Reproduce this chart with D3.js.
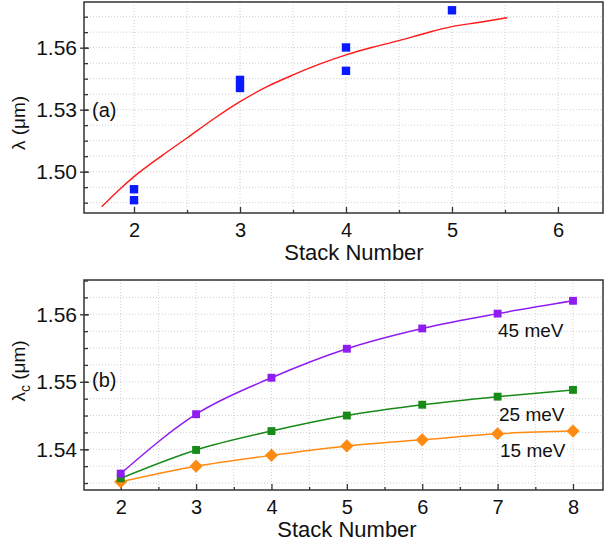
<!DOCTYPE html>
<html>
<head>
<meta charset="utf-8">
<script src="https://cdn.jsdelivr.net/npm/d3@7"></script>
<style>
body { margin: 0; background: #fff; }
text { font-family: "Liberation Sans", Arial, sans-serif; fill: #111; }
</style>
</head>
<body>
<div id="main-diagram"></div>
<script>
// ---- panel (a) : measured peaks + fitted curve
const stackA = [2, 2, 3, 3, 4, 4, 5]
const lambdaA = [1.4915, 1.4862, 1.5444, 1.5405, 1.5601, 1.5488, 1.5781]
const fitStack = [1.695, 1.84, 2.0, 2.27, 2.5, 2.75, 3.0, 3.25, 3.5, 3.75, 4.0, 4.25, 4.5, 4.75, 5.0, 5.25, 5.52]
const fitLambda = [1.483, 1.4903, 1.4976, 1.508, 1.5163, 1.5255, 1.5339, 1.541, 1.5468, 1.552, 1.5565, 1.5602, 1.5634, 1.567, 1.5702, 1.5722, 1.5745]
const xTicksA = [2, 3, 4, 5, 6]
const yTicksA = [1.50, 1.53, 1.56]

// ---- panel (b) : lambda_c vs stack number for three broadenings
const stackB = [2, 3, 4, 5, 6, 7, 8]
const meV45 = [1.5364, 1.5452, 1.5506, 1.5549, 1.5579, 1.5601, 1.5620]
const meV25 = [1.5357, 1.5399, 1.5427, 1.5450, 1.5466, 1.5478, 1.5488]
const meV15 = [1.5352, 1.5375, 1.5391, 1.5405, 1.5414, 1.5423, 1.5427]
const seriesNames = ['45 meV', '25 meV', '15 meV']
const xTicksB = [2, 3, 4, 5, 6, 7, 8]
const yTicksB = [1.54, 1.55, 1.56]

const width = 604
const height = 543
const left = 84
const right = 603

const svg = d3.select('#main-diagram')
    .append('svg')
    .attr('width', width)
    .attr('height', height)

function drawPanel(p) {
    const x = d3.scaleLinear().domain(p.xDomain).range([left, right])
    const y = d3.scaleLinear().domain(p.yDomain).range([p.bottom, p.top])
    const g = svg.append('g')

    // dotted grid
    const gx = d3.range(Math.ceil(p.xDomain[0] * 2) / 2, p.xDomain[1], 0.5)
    const gy = d3.range(0, 40).map(i => p.yStart + i * p.yStep).filter(v => v > p.yDomain[0] && v < p.yDomain[1])
    g.selectAll('.gx').data(gx).enter().append('line')
        .attr('x1', d => x(d)).attr('x2', d => x(d))
        .attr('y1', p.top).attr('y2', p.bottom)
        .attr('stroke', '#cfcfcf').attr('stroke-dasharray', '1,2')
    g.selectAll('.gy').data(gy).enter().append('line')
        .attr('x1', left).attr('x2', right)
        .attr('y1', d => y(d)).attr('y2', d => y(d))
        .attr('stroke', '#cfcfcf').attr('stroke-dasharray', '1,2')

    // frame
    g.append('rect')
        .attr('x', left).attr('y', p.top)
        .attr('width', right - left).attr('height', p.bottom - p.top)
        .attr('fill', 'none').attr('stroke', '#333').attr('stroke-width', 1.5)

    // x axis: inward ticks
    const xAxis = g.append('g').attr('transform', `translate(0,${p.bottom})`)
        .call(d3.axisBottom(x).tickValues(p.xTicks).tickSize(-6).tickPadding(10).tickFormat(d3.format('d')))
    g.append('g').attr('transform', `translate(0,${p.bottom})`)
        .call(d3.axisBottom(x).tickValues(gx.filter(v => v % 1 !== 0)).tickSize(-3).tickFormat(''))

    // y axis: major ticks cross, minor ticks inward
    const yAxis = g.append('g').attr('transform', `translate(${left},0)`)
        .call(d3.axisLeft(y).tickValues(p.yTicks).tickSize(4).tickPadding(3).tickFormat(d3.format('.2f')))
    g.append('g').attr('transform', `translate(${left},0)`)
        .call(d3.axisLeft(y).tickValues(p.yTicks).tickSize(-5).tickFormat(''))
    g.append('g').attr('transform', `translate(${left},0)`)
        .call(d3.axisLeft(y).tickValues(gy).tickSize(-4).tickFormat(''))

    g.selectAll('.domain').remove()
    g.selectAll('.tick line').attr('stroke', '#333').attr('stroke-width', 1.3)
    xAxis.selectAll('text').attr('font-size', 20).attr('font-family', '"Liberation Sans", Arial, sans-serif').attr('fill', '#111')
    yAxis.selectAll('text').attr('font-size', 21).attr('font-family', '"Liberation Sans", Arial, sans-serif').attr('fill', '#111')

    // axis titles
    g.append('text')
        .attr('x', p.xTitleX).attr('y', p.bottom + 47)
        .attr('text-anchor', 'middle').attr('font-size', 22)
        .text('Stack Number')

    const yl = g.append('text')
        .attr('transform', `translate(25,${p.yTitleY}) rotate(-90)`)
        .attr('text-anchor', 'middle').attr('font-size', 19)
    yl.append('tspan').text('λ')
    if (p.sub) yl.append('tspan').attr('font-size', 14).attr('dy', 5).text('c')
    yl.append('tspan').attr('dy', p.sub ? -5 : 0).text(' (μm)')

    g.append('text')
        .attr('x', 92).attr('y', p.labelY)
        .attr('font-size', 20)
        .text(p.label)

    return { g, x, y }
}

// ---- panel (a)
const pa = drawPanel({
    top: 2, bottom: 213,
    xDomain: [1.528, 6.425], yDomain: [1.48, 1.5821],
    xTicks: xTicksA, yTicks: yTicksA,
    yStart: 1.47, yStep: 0.0075,
    xTitleX: 354, yTitleY: 123, labelY: 117, label: '(a)', sub: false
})

pa.g.append('path')
    .datum(fitStack.map((d, i) => [d, fitLambda[i]]))
    .attr('fill', 'none').attr('stroke', '#ff1a1a').attr('stroke-width', 1.4)
    .attr('d', d3.line().x(d => pa.x(d[0])).y(d => pa.y(d[1])).curve(d3.curveMonotoneX))

pa.g.selectAll('.pt').data(stackA.map((d, i) => [d, lambdaA[i]])).enter().append('rect')
    .attr('x', d => pa.x(d[0]) - 4.2).attr('y', d => pa.y(d[1]) - 4.2)
    .attr('width', 8.4).attr('height', 8.4)
    .attr('fill', '#0a1aff')

// ---- panel (b)
const pb = drawPanel({
    top: 280, bottom: 490,
    xDomain: [1.513, 8.398], yDomain: [1.53397, 1.56508],
    xTicks: xTicksB, yTicks: yTicksB,
    yStart: 1.53, yStep: 0.0025,
    xTitleX: 347, yTitleY: 371, labelY: 387, label: '(b)', sub: true
})

const seriesB = [
    { name: seriesNames[0], values: meV45, color: '#8f1cf0', shape: 'square', lx: 498, ly: 337 },
    { name: seriesNames[1], values: meV25, color: '#178a17', shape: 'square', lx: 499, ly: 421 },
    { name: seriesNames[2], values: meV15, color: '#ff8a12', shape: 'diamond', lx: 500, ly: 457 }
]

const lineB = d3.line().x(d => pb.x(d[0])).y(d => pb.y(d[1])).curve(d3.curveMonotoneX)

seriesB.slice().reverse().forEach(s => {
    const pts = stackB.map((d, i) => [d, s.values[i]])
    pb.g.append('path')
        .datum(pts)
        .attr('fill', 'none').attr('stroke', s.color).attr('stroke-width', 1.5)
        .attr('d', lineB)
    const sym = s.shape === 'diamond'
        ? d3.symbol().type(d3.symbolDiamond2).size(110)
        : d3.symbol().type(d3.symbolSquare).size(62)
    pb.g.selectAll('.m').data(pts).enter().append('path')
        .attr('transform', d => `translate(${pb.x(d[0])},${pb.y(d[1])})`)
        .attr('d', sym)
        .attr('fill', s.color)
    pb.g.append('text')
        .attr('x', s.lx).attr('y', s.ly)
        .attr('font-size', 19)
        .text(s.name)
})
</script>
</body>
</html>
